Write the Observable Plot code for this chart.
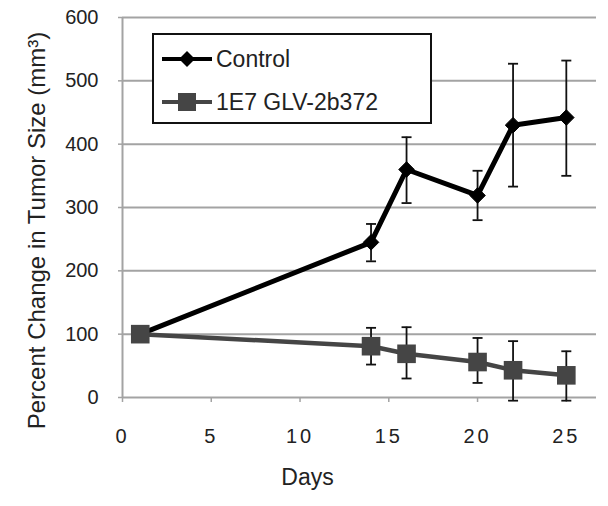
<!DOCTYPE html>
<html>
<head>
<meta charset="utf-8">
<script src="https://cdn.jsdelivr.net/npm/d3@7"></script>
<script src="https://cdn.jsdelivr.net/npm/@observablehq/plot@0.6"></script>
<style>
  html, body { margin: 0; padding: 0; background: #fff; }
  #wrap { position: relative; width: 608px; height: 506px; font-family: "Liberation Sans", Arial, sans-serif; }
  #legend { position: absolute; left: 152px; top: 33px; width: 280px; height: 91px; box-sizing: border-box;
            border: 2px solid #111; background: #fff; }
  .row { position: absolute; left: 6px; height: 30px; display: flex; align-items: center; font-size: 23px; color: #222; }
  .row svg { margin-right: 4px; }
  g[aria-label="x-axis tick label"] text { letter-spacing: 3px; }
</style>
</head>
<body>
<div id="wrap"></div>
<script>
// ---- data ----
const seriesNames = ["Control", "1E7 GLV-2b372"];
const days = [1, 14, 16, 20, 22, 25];
const controlMean = [100, 245, 360, 319, 430, 442];
const controlLow  = [100, 215, 307, 280, 333, 350];
const controlHigh = [100, 274, 411, 358, 527, 532];
const treatMean = [100, 81, 69, 56, 43, 35];
const treatLow  = [100, 52, 30, 23, -5, -5];
const treatHigh = [100, 110, 111, 94, 89, 73];
const xTicks = [0, 5, 10, 15, 20, 25];
const yTicks = [0, 100, 200, 300, 400, 500, 600];
const xLabel = "Days";
const yLabel = "Percent Change in Tumor Size (mm³)";

// ---- tables ----
const controlRows = days.map((d, i) => ({day: d, v: controlMean[i], low: controlLow[i], high: controlHigh[i]}));
const treatRows = days.map((d, i) => ({day: d, v: treatMean[i], low: treatLow[i], high: treatHigh[i]}));
const errRows = controlRows.concat(treatRows).filter(r => r.low !== r.high);

const capSymbol = {
  draw(ctx, size) {
    const r = Math.sqrt(size / Math.PI);
    ctx.moveTo(-r, 0);
    ctx.lineTo(r, 0);
  }
};

const grid = "#a3a3a3";
const ctrlColor = "#000000";
const treatColor = "#454545";

const chart = Plot.plot({
  width: 608,
  height: 506,
  marginLeft: 122,
  marginRight: 12,
  marginTop: 17,
  marginBottom: 109,
  style: {fontFamily: "'Liberation Sans', Arial, sans-serif", fontSize: "20px", background: "#fff", color: "#222"},
  x: {domain: [0, 26.7], axis: null},
  y: {domain: [0, 600], axis: null},
  marks: [
    Plot.ruleY(yTicks, {stroke: grid, strokeWidth: 2}),
    Plot.ruleX([0], {stroke: grid, strokeWidth: 2}),
    Plot.axisY(yTicks, {tickSize: 4, tickPadding: 20, stroke: grid, strokeWidth: 1.5, label: null, fontSize: 20}),
    Plot.axisX(xTicks, {tickSize: 5, tickPadding: 26, stroke: grid, strokeWidth: 1.5, label: null, fontSize: 20}),
    Plot.text([yLabel], {frameAnchor: "left", textAnchor: "middle", lineAnchor: "middle", rotate: -90, dx: -85, dy: 23, fontSize: 24, fill: "#222"}),
    Plot.text([xLabel], {frameAnchor: "bottom", textAnchor: "middle", lineAnchor: "middle", dx: -52, dy: 80, fontSize: 23, fill: "#222"}),
    Plot.ruleX(errRows, {x: "day", y1: "low", y2: "high", stroke: "#111", strokeWidth: 1.8}),
    Plot.dot(errRows, {x: "day", y: "high", symbol: capSymbol, r: 5, stroke: "#111", strokeWidth: 1.8, fill: "none"}),
    Plot.dot(errRows, {x: "day", y: "low", symbol: capSymbol, r: 5, stroke: "#111", strokeWidth: 1.8, fill: "none"}),
    Plot.line(controlRows, {x: "day", y: "v", stroke: ctrlColor, strokeWidth: 5}),
    Plot.dot(controlRows, {x: "day", y: "v", symbol: "diamond2", r: 7, fill: ctrlColor, stroke: ctrlColor, strokeWidth: 1}),
    Plot.line(treatRows, {x: "day", y: "v", stroke: treatColor, strokeWidth: 4.5}),
    Plot.dot(treatRows, {x: "day", y: "v", symbol: "square", r: 10.5, fill: treatColor})
  ]
});

const wrap = document.getElementById("wrap");
wrap.appendChild(chart);

// legend
const legend = document.createElement("div");
legend.id = "legend";
const sampleCtrl = `<svg width="52" height="20"><line x1="2" y1="10" x2="52" y2="10" stroke="${ctrlColor}" stroke-width="4"/><path d="M27,2 L35,10 L27,18 L19,10 Z" fill="${ctrlColor}"/></svg>`;
const sampleTreat = `<svg width="52" height="20"><line x1="2" y1="10" x2="52" y2="10" stroke="${treatColor}" stroke-width="4"/><rect x="18" y="1" width="18" height="18" fill="${treatColor}"/></svg>`;
legend.innerHTML =
  `<div class="row" style="top:9px">${sampleCtrl}<span>${seriesNames[0]}</span></div>` +
  `<div class="row" style="top:52px">${sampleTreat}<span>${seriesNames[1]}</span></div>`;
wrap.appendChild(legend);
</script>
</body>
</html>
